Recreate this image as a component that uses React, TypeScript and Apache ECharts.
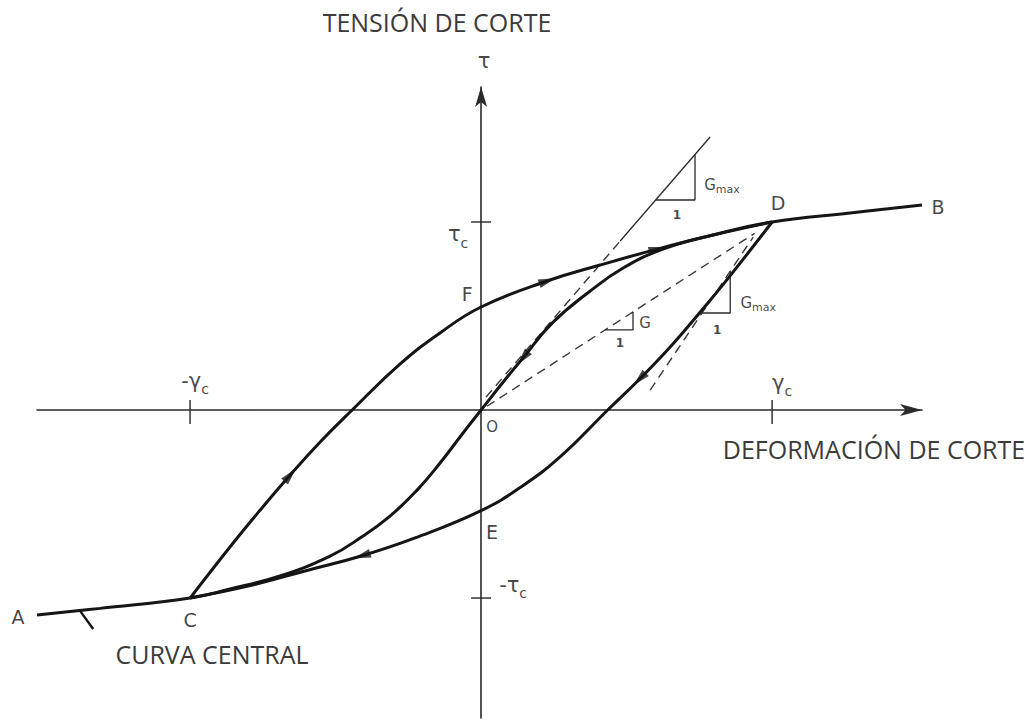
import React, { useEffect, useRef } from "react";
import * as echarts from "echarts";

type P = [number, number];

// strain (gamma / gamma_c) vs stress (tau / tau_c)
const backbone: P[] = [
  [-1.526, -1.09], [-1.309, -1.055], [-1, -1], [-0.863, -0.952], [-0.691, -0.883],
  [-0.519, -0.777], [-0.416, -0.681], [-0.313, -0.564], [-0.22, -0.426], [-0.141, -0.282],
  [-0.062, -0.122], [0, 0], [0.076, 0.149], [0.144, 0.277], [0.244, 0.462],
  [0.375, 0.633], [0.488, 0.755], [0.625, 0.856], [0.797, 0.931], [1, 1],
  [1.268, 1.048], [1.515, 1.09],
];
const reloading: P[] = [
  [-1, -1], [-0.852, -0.707], [-0.759, -0.532], [-0.656, -0.346], [-0.553, -0.17],
  [-0.443, 0], [-0.278, 0.245], [-0.141, 0.41], [0, 0.548], [0.227, 0.686],
  [0.409, 0.771], [0.605, 0.856], [0.797, 0.931], [1, 1],
];
const unloading: P[] = [
  [1, 1], [0.852, 0.707], [0.759, 0.532], [0.656, 0.346], [0.545, 0.165],
  [0.435, 0], [0.278, -0.24], [0.141, -0.405], [0, -0.535], [-0.227, -0.68],
  [-0.409, -0.775], [-0.605, -0.856], [-0.797, -0.935], [-1, -1],
];
const tangentAtOrigin: P[] = [[0.017, 0.069], [0.478, 0.899], [0.787, 1.452]];
const tangentAtD: P[] = [[0.581, 0.106], [0.935, 0.92]];
const secantOD: P[] = [[0.02, 0.02], [0.94, 0.94]];
const slopeTriangleO: P[] = [[0.601, 1.117], [0.735, 1.117], [0.735, 1.359]];
const slopeTriangleD: P[] = [[0.759, 0.516], [0.856, 0.516], [0.856, 0.739]];
const slopeTriangleG: P[] = [[0.426, 0.426], [0.522, 0.426], [0.522, 0.522]];
const centralCurvePointer: P[] = [[-1.378, -1.068], [-1.333, -1.165]];
const strainTicks = [-1, 1];
const stressTicks = [-1, 1];

// arrow heads: which curve, which point, direction along the curve
const arrowMarks: { curve: P[]; index: number; dir: number }[] = [
  { curve: reloading, index: 3, dir: 1 },
  { curve: reloading, index: 9, dir: 1 },
  { curve: reloading, index: 11, dir: 1 },
  { curve: unloading, index: 4, dir: 1 },
  { curve: unloading, index: 10, dir: 1 },
  { curve: backbone, index: 13, dir: -1 },
];

const X_MIN = -1.526, X_MAX = 1.515, Y_MIN = -1.638, Y_MAX = 1.718;
const GRID = { left: 37, top: 87, width: 885, height: 631 };

const INK = "#151515";
const LETTER_FONT = "DejaVu Sans";

const rich = {
  m: { fontSize: 21, fontFamily: LETTER_FONT, color: INK, lineHeight: 26, verticalAlign: "top" as const },
  s: { fontSize: 14, fontFamily: LETTER_FONT, color: INK, lineHeight: 14, verticalAlign: "bottom" as const },
  g: { fontSize: 15, fontFamily: LETTER_FONT, color: INK, lineHeight: 18, verticalAlign: "top" as const },
  gs: { fontSize: 11, fontFamily: LETTER_FONT, color: INK, lineHeight: 11, verticalAlign: "bottom" as const },
  l: { fontSize: 19, fontFamily: LETTER_FONT, color: INK },
  o: { fontSize: 15, fontFamily: LETTER_FONT, color: INK },
  one: { fontSize: 12, fontFamily: LETTER_FONT, color: INK, fontWeight: "bold" as const },
};

const labelSpecs: { at: P; text: string; offset: [number, number] }[] = [
  { at: backbone[0], text: "{l|A}", offset: [-19, 2] },
  { at: backbone[backbone.length - 1], text: "{l|B}", offset: [16, 2] },
  { at: reloading[0], text: "{l|C}", offset: [0, 22] },
  { at: reloading[reloading.length - 1], text: "{l|D}", offset: [6, -19] },
  { at: unloading[8], text: "{l|E}", offset: [11, 21] },
  { at: reloading[8], text: "{l|F}", offset: [-14, -13] },
  { at: [0, 0], text: "{o|O}", offset: [11, 17] },
  { at: [0, Y_MAX], text: "{m|τ}", offset: [3, -24] },
  { at: [0, stressTicks[1]], text: "{m|τ}{s|c}", offset: [-23, 15] },
  { at: [0, stressTicks[0]], text: "{m|-τ}{s|c}", offset: [32, -11] },
  { at: [strainTicks[1], 0], text: "{m|γ}{s|c}", offset: [10, -25] },
  { at: [strainTicks[0], 0], text: "{m|-γ}{s|c}", offset: [5, -27] },
  { at: slopeTriangleO[1], text: "{g|G}{gs|max}", offset: [27, -14] },
  { at: slopeTriangleO[1], text: "{one|1}", offset: [-18, 15] },
  { at: slopeTriangleD[1], text: "{g|G}{gs|max}", offset: [28, -9] },
  { at: slopeTriangleD[1], text: "{one|1}", offset: [-13, 17] },
  { at: slopeTriangleG[1], text: "{g|G}", offset: [12, -5] },
  { at: slopeTriangleG[1], text: "{one|1}", offset: [-13, 13] },
];

export default function App() {
  const ref = useRef<HTMLDivElement>(null);

  useEffect(() => {
    if (!ref.current) return;
    const chart = echarts.init(ref.current, undefined, { renderer: "svg" });
    const sx = GRID.width / (X_MAX - X_MIN);
    const sy = GRID.height / (Y_MAX - Y_MIN);

    const arrowData = arrowMarks.map(({ curve, index, dir }) => {
      const prev = curve[index - 1];
      const next = curve[index + 1];
      const dx = (next[0] - prev[0]) * sx * dir;
      const dy = (next[1] - prev[1]) * sy * dir;
      const ang = (Math.atan2(dy, dx) * 180) / Math.PI;
      return { value: curve[index], symbolRotate: ang - 90 };
    });

    const thick = { color: INK, width: 3 };
    const dashed = { color: "#3a3a3a", width: 1.4, type: [9, 6] as number[] };
    const thin = { color: "#2a2a2a", width: 1.3 };

    const lineSeries = (data: P[], lineStyle: object, smooth: number | boolean = false, z = 3) => ({
      type: "line" as const,
      data,
      symbol: "none",
      smooth,
      lineStyle,
      silent: true,
      z,
    });

    const axisCommon = {
      type: "value" as const,
      axisTick: { show: false },
      axisLabel: { show: false },
      splitLine: { show: false },
    };

    const titleStyle = {
      fontSize: 25,
      fontFamily: "Open Sans",
      fill: "#3b3b3b",
      align: "center",
      verticalAlign: "middle",
    };

    chart.setOption({
      animation: false,
      backgroundColor: "#ffffff",
      grid: { ...GRID, containLabel: false },
      xAxis: {
        ...axisCommon,
        min: X_MIN,
        max: X_MAX,
        axisLine: {
          show: true,
          onZero: true,
          symbol: ["none", "arrow"],
          symbolSize: [9, 22],
          lineStyle: { color: "#2a2a2a", width: 1.6 },
        },
      },
      yAxis: {
        ...axisCommon,
        min: Y_MIN,
        max: Y_MAX,
        axisLine: {
          show: true,
          onZero: true,
          symbol: ["none", "arrow"],
          symbolSize: [9, 20],
          lineStyle: { color: "#2a2a2a", width: 1.6 },
        },
      },
      series: [
        lineSeries(backbone, thick, 0.45, 4),
        lineSeries(reloading, thick, 0.45, 4),
        lineSeries(unloading, thick, 0.45, 4),
        lineSeries(tangentAtOrigin.slice(0, 2), dashed),
        lineSeries(tangentAtOrigin.slice(1), thin),
        lineSeries(tangentAtD, dashed),
        lineSeries(secantOD, dashed),
        lineSeries(slopeTriangleO, thin),
        lineSeries(slopeTriangleD, thin),
        lineSeries(slopeTriangleG, thin),
        lineSeries(centralCurvePointer, { color: INK, width: 2.4 }),
        {
          type: "scatter",
          data: arrowData,
          symbol: "triangle",
          symbolSize: [9, 17],
          itemStyle: { color: INK },
          silent: true,
          z: 5,
        },
        {
          type: "scatter",
          data: strainTicks.map((v) => [v, 0]),
          symbol: "rect",
          symbolSize: [1.8, 24],
          symbolOffset: [0, 2],
          itemStyle: { color: "#2a2a2a" },
          silent: true,
          z: 2,
        },
        {
          type: "scatter",
          data: stressTicks.map((v) => [0, v]),
          symbol: "rect",
          symbolSize: [20, 1.8],
          itemStyle: { color: "#2a2a2a" },
          silent: true,
          z: 2,
        },
        {
          type: "scatter",
          symbolSize: 0.1,
          itemStyle: { color: "transparent" },
          silent: true,
          clip: false,
          z: 6,
          data: labelSpecs.map((s) => ({
            value: s.at,
            label: {
              show: true,
              position: "inside",
              offset: s.offset,
              formatter: s.text,
              rich,
              align: "center",
              verticalAlign: "middle",
            },
          })),
        },
      ],
      graphic: [
        { type: "text", x: 437, y: 22, silent: true, style: { text: "TENSIÓN DE CORTE", ...titleStyle } },
        { type: "text", x: 874, y: 449, silent: true, style: { text: "DEFORMACIÓN DE CORTE", ...titleStyle } },
        { type: "text", x: 212, y: 654, silent: true, style: { text: "CURVA CENTRAL", ...titleStyle } },
      ],
    });

    return () => chart.dispose();
  }, []);

  return (
    <div
      ref={ref}
      style={{ position: "fixed", left: 0, top: 0, width: 1034, height: 721, background: "#fff" }}
    />
  );
}
